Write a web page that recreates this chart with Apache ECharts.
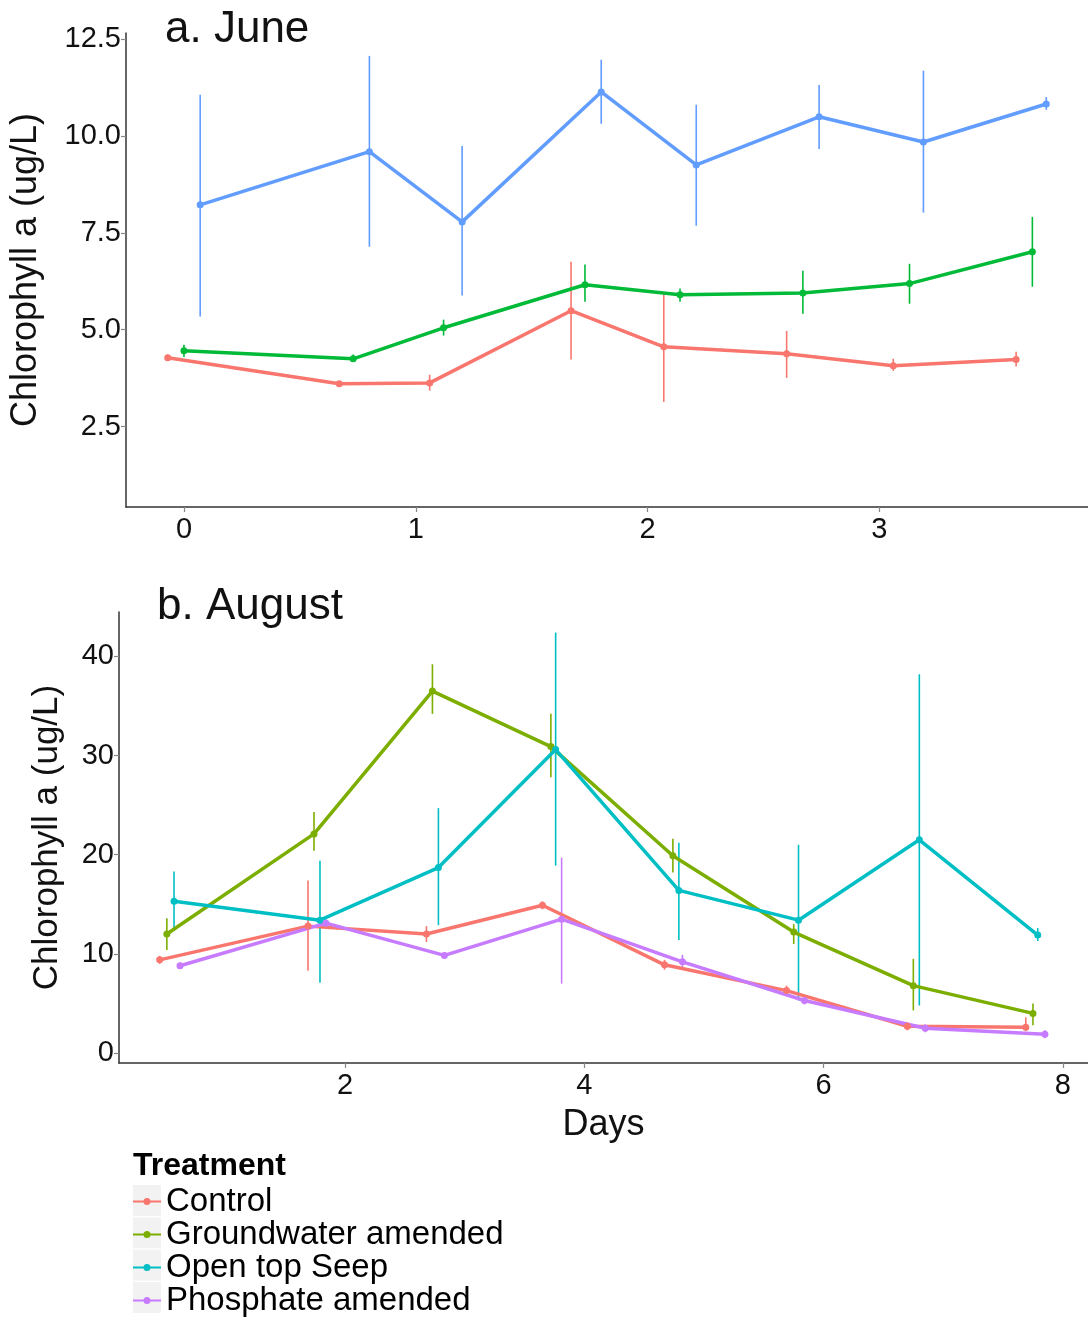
<!DOCTYPE html>
<html>
<head>
	<meta charset="utf-8">
	<title>Chlorophyll a</title>
	<script src="https://cdn.jsdelivr.net/npm/echarts@6/dist/echarts.min.js"></script>
	<style>
		html, body { margin: 0; padding: 0; background: #fff; }
		#chart { width: 1088px; height: 1317px; }
	</style>
</head>
<body>
<div id="chart"></div>
<script type="text/javascript">
// June (panel a)
var juneControlDays = [-0.07, 0.67, 1.06, 1.67, 2.07, 2.60, 3.06, 3.59];
var juneControlChl  = [4.28, 3.61, 3.63, 5.49, 4.56, 4.38, 4.07, 4.23];
var juneControlLo   = [4.20, 3.56, 3.43, 4.23, 3.14, 3.76, 3.94, 4.05];
var juneControlHi   = [4.36, 3.66, 3.84, 6.75, 5.95, 4.97, 4.25, 4.43];

var juneGwDays = [0.00, 0.73, 1.12, 1.73, 2.14, 2.67, 3.13, 3.66];
var juneGwChl  = [4.46, 4.25, 5.05, 6.16, 5.90, 5.95, 6.19, 7.01];
var juneGwLo   = [4.30, 4.18, 4.85, 5.72, 5.72, 5.41, 5.67, 6.11];
var juneGwHi   = [4.61, 4.36, 5.26, 6.68, 6.06, 6.52, 6.70, 7.91];

var juneSeepDays = [0.07, 0.80, 1.20, 1.80, 2.21, 2.74, 3.19, 3.72];
var juneSeepChl  = [8.22, 9.59, 7.78, 11.13, 9.25, 10.49, 9.84, 10.82];
var juneSeepLo   = [5.34, 7.14, 5.88, 10.31, 7.68, 9.66, 8.02, 10.67];
var juneSeepHi   = [11.06, 12.06, 9.74, 11.96, 10.80, 11.31, 11.68, 11.00];

// August (panel b)
var augControlDays = [0.45, 1.69, 2.68, 3.65, 4.67, 5.69, 6.70, 7.69];
var augControlChl  = [9.4, 12.8, 12.0, 14.9, 8.9, 6.3, 2.7, 2.6];
var augControlLo   = [9.0, 8.3, 11.2, 14.5, 8.4, 5.8, 2.3, 2.2];
var augControlHi   = [9.8, 17.4, 12.8, 15.3, 9.4, 6.8, 3.1, 3.6];

var augGwDays = [0.51, 1.74, 2.73, 3.72, 4.74, 5.75, 6.75, 7.75];
var augGwChl  = [12.0, 22.1, 36.5, 30.9, 19.9, 12.2, 6.8, 4.0];
var augGwLo   = [10.4, 20.4, 34.2, 27.8, 18.2, 11.0, 4.3, 2.8];
var augGwHi   = [13.6, 24.3, 39.2, 34.2, 21.6, 13.0, 9.5, 5.0];

var augSeepDays = [0.57, 1.79, 2.78, 3.76, 4.79, 5.79, 6.80, 7.79];
var augSeepChl  = [15.3, 13.4, 18.7, 30.6, 16.4, 13.4, 21.5, 11.9];
var augSeepLo   = [12.3, 7.1, 12.9, 18.9, 11.4, 5.3, 4.8, 11.3];
var augSeepHi   = [18.3, 19.4, 24.7, 42.4, 21.2, 21.0, 38.2, 12.6];

var augPhosDays = [0.62, 1.84, 2.83, 3.81, 4.82, 5.84, 6.85, 7.85];
var augPhosChl  = [8.8, 13.1, 9.85, 13.5, 9.2, 5.3, 2.5, 1.9];
var augPhosLo   = [8.5, 12.7, 9.5, 7.0, 8.6, 4.9, 2.1, 1.5];
var augPhosHi   = [9.1, 13.5, 10.2, 19.7, 9.9, 5.7, 2.9, 2.3];

var juneYTicks = [2.5, 5, 7.5, 10, 12.5];
var juneXTicks = [0, 1, 2, 3];
var augYTicks = [0, 10, 20, 30, 40];
var augXTicks = [2, 4, 6, 8];

var treatments = ['Control', 'Groundwater amended', 'Open top Seep', 'Phosphate amended'];

var FONT = 'Liberation Sans, Arial, sans-serif';

function pairs(xs, ys) {
	return xs.map(function (x, i) { return [x, ys[i]]; });
}
function bars(xs, lo, hi) {
	return xs.map(function (x, i) { return [x, lo[i], hi[i]]; });
}

// vertical error bar, no caps
function errRender(params, api) {
	var p1 = api.coord([api.value(0), api.value(1)]);
	var p2 = api.coord([api.value(0), api.value(2)]);
	return {
		type: 'line',
		shape: { x1: p1[0], y1: p1[1], x2: p2[0], y2: p2[1] },
		style: { stroke: api.visual('color'), lineWidth: 1.6 }
	};
}

function lineSeries(name, color, idx, xs, ys) {
	return {
		name: name,
		type: 'line',
		xAxisIndex: idx,
		yAxisIndex: idx,
		data: pairs(xs, ys),
		symbol: 'circle',
		symbolSize: 7,
		lineStyle: { color: color, width: 3.5 },
		itemStyle: { color: color },
		z: 3
	};
}
function errSeries(name, color, idx, xs, lo, hi) {
	return {
		name: name,
		type: 'custom',
		xAxisIndex: idx,
		yAxisIndex: idx,
		renderItem: errRender,
		itemStyle: { color: color },
		encode: { x: 0, y: [1, 2] },
		data: bars(xs, lo, hi),
		z: 2
	};
}

function valueAxis(idx, min, max, ticks, fmt) {
	return {
		type: 'value',
		gridIndex: idx,
		min: min,
		max: max,
		splitLine: { show: false },
		axisLine: { show: true, onZero: false, lineStyle: { color: '#333', width: 1.5 } },
		axisTick: { show: true, length: 5, customValues: ticks, lineStyle: { color: '#888', width: 1.2 } },
		axisLabel: {
			customValues: ticks,
			color: '#111',
			fontSize: 29,
			fontFamily: FONT,
			margin: 5,
			formatter: fmt
		}
	};
}

var chart = echarts.init(document.getElementById('chart'));

var colCtrl = '#F8766D', colGw = '#7CAE00', colSeep = '#00BFC4', colPhos = '#C77CFF';
var juneCtrl = '#F8766D', juneGw = '#00BA38', juneSeep = '#619CFF';

var xa0 = valueAxis(0, -0.25, 3.9, juneXTicks, function (v) { return String(v); });
xa0.axisLabel.margin = 8;
var xa1 = valueAxis(1, 0.11, 8.21, augXTicks, function (v) { return String(v); });
xa1.axisLabel.margin = 8;
xa1.name = 'Days';
xa1.nameLocation = 'middle';
xa1.nameGap = 44;
xa1.nameTextStyle = { fontSize: 36, fontFamily: FONT, color: '#111' };

var ya0 = valueAxis(0, 0.43, 12.65, juneYTicks, function (v) { return v.toFixed(1); });
ya0.name = 'Chlorophyll a (ug/L)';
ya0.nameLocation = 'middle';
ya0.nameGap = 82;
ya0.nameTextStyle = { fontSize: 36, fontFamily: FONT, color: '#111' };
var ya1 = valueAxis(1, -1.0, 44.47, augYTicks, function (v) { return String(v); });
ya1.name = 'Chlorophyll a (ug/L)';
ya1.nameLocation = 'middle';
ya1.nameGap = 54;
ya1.nameTextStyle = { fontSize: 35, fontFamily: FONT, color: '#111' };

var keyBoxes = treatments.map(function (t, i) {
	return {
		type: 'rect',
		left: 133,
		top: 1185 + i * 32.3,
		shape: { width: 28, height: 31 },
		style: { fill: '#F2F2F2' },
		z: 0
	};
});

chart.setOption({
	animation: false,
	backgroundColor: '#fff',
	title: [
		{ text: 'a. June', left: 165, top: 8, padding: 0,
		  textStyle: { fontSize: 44, fontWeight: 'normal', fontFamily: FONT, color: '#111' } },
		{ text: 'b. August', left: 157, top: 585, padding: 0,
		  textStyle: { fontSize: 44, fontWeight: 'normal', fontFamily: FONT, color: '#111' } },
		{ text: 'Treatment', left: 133, top: 1150, padding: 0,
		  textStyle: { fontSize: 32, fontWeight: 'bold', fontFamily: FONT, color: '#000' } }
	],
	grid: [
		{ left: 125, top: 33, right: 0, height: 474 },
		{ left: 119, top: 612, right: 0, height: 451 }
	],
	xAxis: [xa0, xa1],
	yAxis: [ya0, ya1],
	legend: {
		data: treatments,
		orient: 'vertical',
		left: 133,
		top: 1185,
		padding: 0,
		itemWidth: 28,
		itemHeight: 8,
		itemGap: 0,
		icon: 'path://M0,3h28v2h-28z M14,0.5a3.5,3.5 0 1,1 0,7a3.5,3.5 0 1,1 0,-7z',
		textStyle: { fontSize: 33, fontFamily: FONT, color: '#000', padding: [0, 0, 0, 0] },
		z: 5
	},
	graphic: keyBoxes,
	series: [
		errSeries('June Seep', juneSeep, 0, juneSeepDays, juneSeepLo, juneSeepHi),
		errSeries('June Groundwater', juneGw, 0, juneGwDays, juneGwLo, juneGwHi),
		errSeries('June Control', juneCtrl, 0, juneControlDays, juneControlLo, juneControlHi),
		lineSeries('June Seep', juneSeep, 0, juneSeepDays, juneSeepChl),
		lineSeries('June Groundwater', juneGw, 0, juneGwDays, juneGwChl),
		lineSeries('June Control', juneCtrl, 0, juneControlDays, juneControlChl),

		errSeries('Control', colCtrl, 1, augControlDays, augControlLo, augControlHi),
		errSeries('Groundwater amended', colGw, 1, augGwDays, augGwLo, augGwHi),
		errSeries('Open top Seep', colSeep, 1, augSeepDays, augSeepLo, augSeepHi),
		errSeries('Phosphate amended', colPhos, 1, augPhosDays, augPhosLo, augPhosHi),
		lineSeries('Control', colCtrl, 1, augControlDays, augControlChl),
		lineSeries('Groundwater amended', colGw, 1, augGwDays, augGwChl),
		lineSeries('Open top Seep', colSeep, 1, augSeepDays, augSeepChl),
		lineSeries('Phosphate amended', colPhos, 1, augPhosDays, augPhosChl)
	]
});
</script>
</body>
</html>
